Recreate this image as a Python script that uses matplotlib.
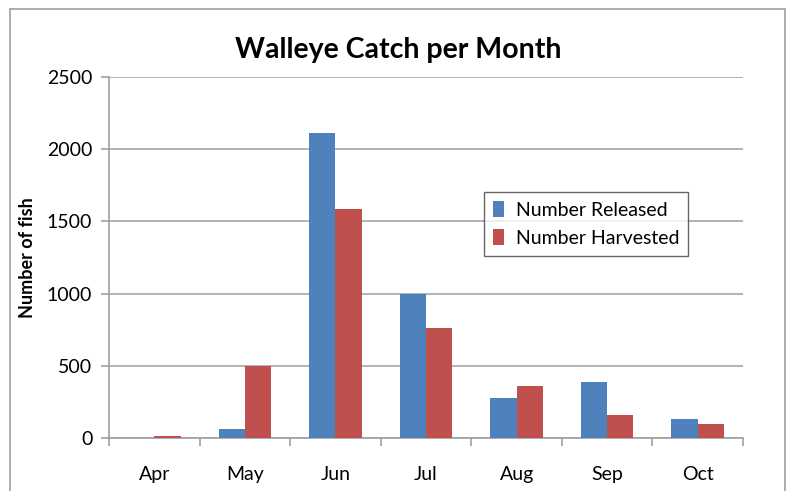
import matplotlib
matplotlib.use("Agg")
import matplotlib.pyplot as plt
import numpy as np
from matplotlib.patches import Rectangle

months = ["Apr", "May", "Jun", "Jul", "Aug", "Sep", "Oct"]
released = [0, 60, 2110, 1000, 275, 390, 135]
harvested = [15, 500, 1585, 765, 362, 160, 95]
yticks = [0, 500, 1000, 1500, 2000, 2500]

plt.rcParams['font.family'] = ['Lato', 'DejaVu Sans']

W, H = 788, 491
fig = plt.figure(figsize=(W/100, H/100), dpi=100)
fig.patch.set_facecolor("white")

# outer chart border
fig.add_artist(Rectangle((10/W, -0.05), 775/W, 1 - 9/H + 0.05, transform=fig.transFigure,
                         fill=False, edgecolor="#a0a0a0", linewidth=1.2))

ax = fig.add_axes([109/W, 1 - 438/H, (743-109)/W, (438-77)/H])
x = np.arange(len(months))
bw = 0.29
ax.bar(x - bw/2, released, bw, color="#4f81bd", label="Number Released", zorder=3)
ax.bar(x + bw/2, harvested, bw, color="#c0504d", label="Number Harvested", zorder=3)

ax.set_xlim(-0.5, len(months) - 0.5)
ax.set_ylim(0, 2500)
ax.set_yticks(yticks)
ax.set_yticklabels([str(v) for v in yticks], fontsize=14)
ax.yaxis.grid(True, color="#a6a6a6", linewidth=1.2)
ax.set_axisbelow(True)
ax.set_xticks(x)
ax.set_xticklabels(months, fontsize=14)
ax.tick_params(axis="x", length=0, pad=20)
ax.set_xticks(np.arange(-0.5, len(months)), minor=True)
ax.tick_params(axis="x", which="minor", length=6, color="#a0a0a0", width=1.2)
ax.tick_params(axis="y", length=6, color="#a0a0a0", width=1.2, pad=6)
for s in ["top", "right"]:
    ax.spines[s].set_visible(False)
for s in ["left", "bottom"]:
    ax.spines[s].set_color("#a0a0a0")
    ax.spines[s].set_linewidth(1.2)
    ax.spines[s].set_zorder(2)

ax.set_ylabel("Number of fish", fontsize=13, fontweight="bold", labelpad=8)
fig.text(398/W, 1 - 50/H, "Walleye Catch per Month",
         ha="center", va="center", fontsize=20.5, fontweight="bold")

leg = ax.legend(loc="upper left", bbox_to_anchor=((484-109)/(743-109), (438-192)/(438-77)),
                fontsize=14, frameon=True, fancybox=False, handlelength=0.6, handleheight=0.9,
                handletextpad=0.6, borderpad=0.45, labelspacing=0.55, borderaxespad=0)
leg.get_frame().set_edgecolor("#404040")
leg.get_frame().set_linewidth(1.0)

fig.savefig("out.png", dpi=100, facecolor="white")
